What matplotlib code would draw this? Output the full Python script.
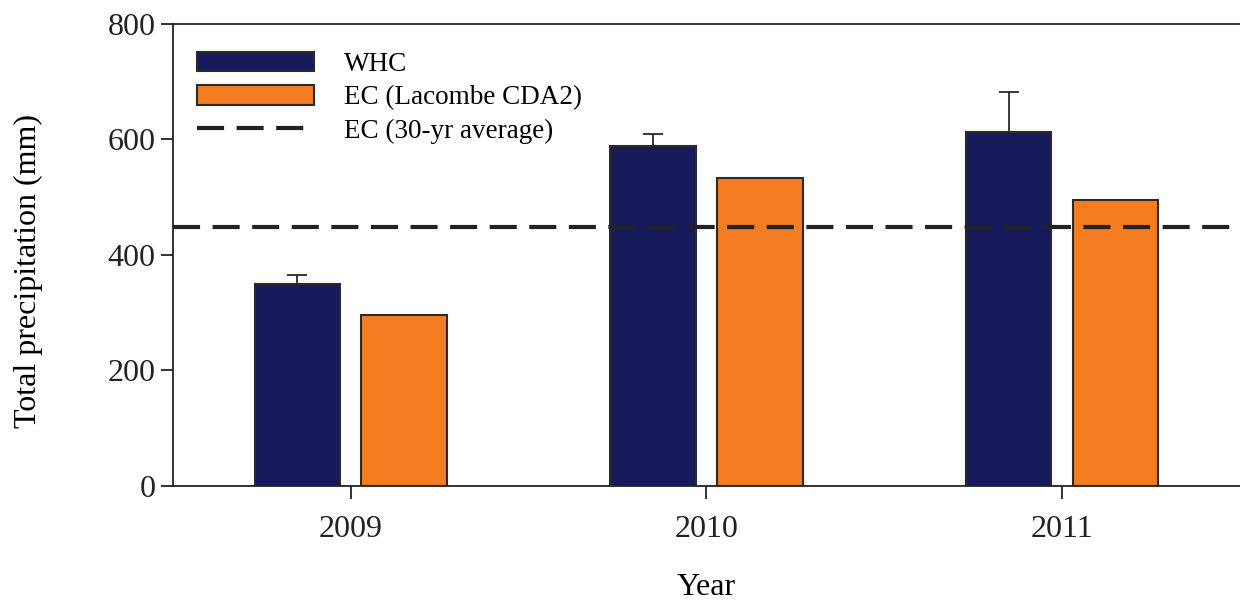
import numpy as np
import matplotlib.pyplot as plt

plt.rcParams['font.family'] = ['Liberation Serif', 'DejaVu Serif']

years = ['2009', '2010', '2011']
whc = [350, 589, 613]
whc_err = [15, 21, 69]
ec_lacombe = [296, 533, 495]
ec_30yr = 448

fig = plt.figure(figsize=(12.4, 6.04), dpi=100)
ax = fig.add_axes([0.1395, 0.1954, 0.8605, 0.7649])

x = np.arange(len(years))
w = 0.24
b1 = ax.bar(x - 0.15, whc, w, color='#161a5a', edgecolor='#2a2a2a', linewidth=1.5,
            label='WHC', zorder=2)
ax.errorbar(x - 0.15, whc, yerr=[np.zeros(3), whc_err], fmt='none',
            ecolor='#2a2a2a', elinewidth=1.3, capsize=7, capthick=1.3, zorder=1)
b2 = ax.bar(x + 0.15, ec_lacombe, w, color='#f37d20', edgecolor='#2a2a2a', linewidth=1.5,
            label='EC (Lacombe CDA2)', zorder=2)
ln = ax.axhline(ec_30yr, color='#222222', linewidth=3, dashes=(6.5, 3),
                label='EC (30-yr average)', zorder=3)

ax.set_xlim(-0.5, 2.5)
ax.set_ylim(0, 800)
ax.set_xticks(x)
ax.set_xticklabels(years)
ax.set_yticks([0, 200, 400, 600, 800])
ax.spines['right'].set_visible(False)
for s in ['left', 'bottom', 'top']:
    ax.spines[s].set_linewidth(1.3)
    ax.spines[s].set_color('#222222')
ax.tick_params(axis='both', direction='out', length=9, width=1.3, labelsize=23,
               colors='#222222')
ax.tick_params(axis='x', pad=12)

ax.set_xlabel('Year', fontsize=23, labelpad=21)
ax.set_ylabel('Total precipitation (mm)', fontsize=23)
ax.yaxis.set_label_coords(-0.122, 0.465)

ax.legend([b1, b2, ln], ['WHC', 'EC (Lacombe CDA2)', 'EC (30-yr average)'],
          loc='upper left', frameon=False, fontsize=19.5, handlelength=4.3,
          handleheight=0.75, handletextpad=1.1, labelspacing=0.3,
          bbox_to_anchor=(0.0, 0.993))

fig.savefig('out.png', dpi=100)
